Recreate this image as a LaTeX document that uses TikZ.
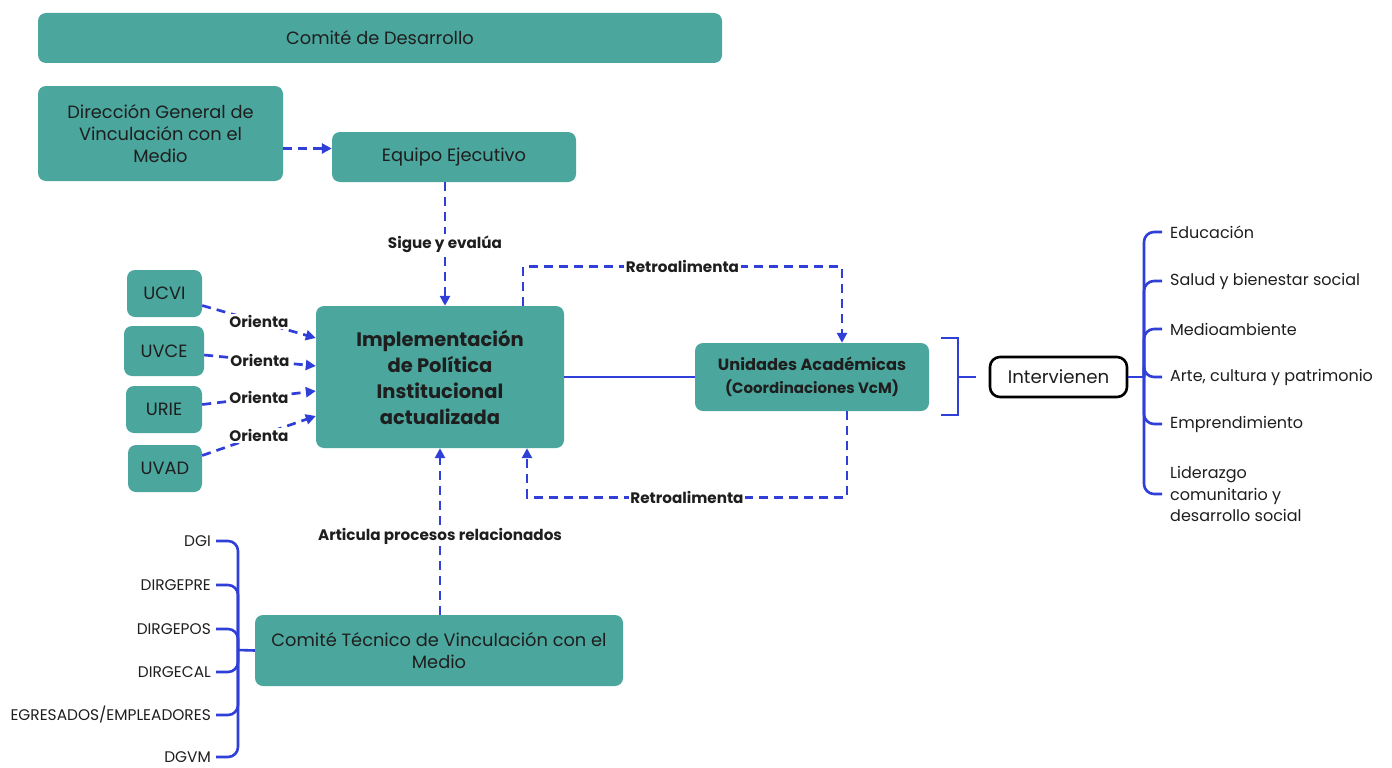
\documentclass[tikz,border=0pt]{standalone}
\usepackage{fontspec}
\setmainfont{Poppins}
\usetikzlibrary{arrows.meta,calc}
\definecolor{teal1}{HTML}{4BA69D}
\definecolor{blu}{HTML}{2F3FD8}
\definecolor{ink}{HTML}{1E1E1E}
\begin{document}
\begin{tikzpicture}[x=1pt,y=-1pt,
 box/.style={fill=teal1, rounded corners=8pt, align=center, inner sep=0pt, text=ink, font=\fontsize{17.8}{22}\selectfont},
 lbl/.style={fill=white, inner sep=1.5pt, text=ink, font=\bfseries\fontsize{15.2}{17}\selectfont},
 dline/.style={draw=blu, line width=2.7pt, dash pattern=on 9pt off 6pt},
 darr/.style={dline, -{Triangle[length=10pt,width=10pt]}},
 sline/.style={draw=blu, line width=2.6pt},
 item/.style={inner sep=0pt, text=ink, align=left, anchor=west, font=\fontsize{16}{21.5}\selectfont},
 litem/.style={inner sep=0pt, text=ink, anchor=east, font=\fontsize{15.4}{17}\selectfont},
]
\useasboundingbox (0,0) rectangle (1392,768);
\fill[white] (0,0) rectangle (1392,768);

% boxes
\node[box, minimum width=684pt, minimum height=50pt] (comite) at (380,38) {Comité de Desarrollo};
\node[box, minimum width=245pt, minimum height=95pt] (dir) at (160.5,133.5) {Dirección General de\\Vinculación con el\\Medio};
\node[box, minimum width=244pt, minimum height=50pt] (equipo) at (454,157) {Equipo Ejecutivo};
\node[box, minimum width=248pt, minimum height=142pt, font=\bfseries\fontsize{19.5}{26}\selectfont] (impl) at (440,377) {Implementación\\de Política\\Institucional\\actualizada};
\node[box, minimum width=75pt, minimum height=47pt] (ucvi) at (164.5,293.5) {UCVI};
\node[box, minimum width=80pt, minimum height=50pt] (uvce) at (164,351) {UVCE};
\node[box, minimum width=76pt, minimum height=47pt] (urie) at (164,409.5) {URIE};
\node[box, minimum width=74pt, minimum height=47pt] (uvad) at (165,468.5) {UVAD};
\node[box, minimum width=234pt, minimum height=68pt, font=\bfseries\fontsize{16.2}{23}\selectfont] (unid) at (812,377) {Unidades Académicas\\{\fontsize{15}{16}\selectfont(Coordinaciones VcM)}};
\node[box, minimum width=368pt, minimum height=71pt] (ctec) at (439,650.5) {Comité Técnico de Vinculación con el\\Medio};
\node[draw=black, line width=2.6pt, fill=white, rounded corners=10pt, minimum width=137pt, minimum height=40pt, inner sep=0pt, text=ink, font=\fontsize{18.2}{20}\selectfont] (interv) at (1058.5,377) {Intervienen};

% dashed connectors
\draw[darr] ([yshift=-15pt]dir.east) coordinate (d1) -- (d1 -| equipo.west);
\draw[darr] ([xshift=-9pt]equipo.south) coordinate (e1) -- node[lbl]{Sigue y evalúa} (e1 |- impl.north);
\draw[darr] ([yshift=-12pt]ucvi.east) -- node[lbl]{Orienta} ([yshift=39pt]impl.west);
\draw[darr] ([yshift=-4pt]uvce.east) -- node[lbl]{Orienta} ([yshift=11pt]impl.west);
\draw[darr] ([yshift=5pt]urie.east) -- node[lbl]{Orienta} ([yshift=-14pt]impl.west);
\draw[darr] ([yshift=13pt]uvad.east) -- node[lbl]{Orienta} ([yshift=-39pt]impl.west);
\draw[darr] ([xshift=83pt]impl.north) -- ++(0,39pt) -| node[lbl, pos=0.25]{Retroalimenta} ([xshift=30pt]unid.north);
\draw[darr] ([xshift=35pt]unid.south) -- ++(0,-86pt) -| node[lbl, pos=0.25]{Retroalimenta} ([xshift=87pt]impl.south);
\draw[darr] ([xshift=1pt]ctec.north) coordinate (c1) -- node[lbl, pos=0.47]{Articula procesos relacionados} (c1 |- impl.south);

% solid connector
\draw[sline] (impl.east) -- (unid.west);

% bracket next to Unidades
\draw[sline] (941,338) -- (958,338) -- (958,415) -- (941,415);
\draw[sline] (958,377) -- (976,377);

% right list
\coordinate (hubR) at (1144,377);
\node[item] (edu) at (1170,232) {Educación};
\node[item] (sal) at (1170,281) {Salud y bienestar social};
\node[item] (med) at (1170,329) {Medioambiente};
\node[item] (art) at (1170,377) {Arte, cultura y patrimonio};
\node[item] (emp) at (1170,424) {Emprendimiento};
\node[item] (lid) at (1170,494) {Liderazgo\\comunitario y\\desarrollo social};
\draw[sline] (interv.east) -- (hubR);
\foreach \n in {edu,sal,med,art,emp,lid}
  \draw[sline, rounded corners=10pt] (hubR) |- ([xshift=-8pt]\n.west);

% left list
\coordinate (hubL) at (238,650);
\node[litem] (dgi) at (211,541) {DGI};
\node[litem] (pre) at (211,585) {DIRGEPRE};
\node[litem] (pos) at (211,629) {DIRGEPOS};
\node[litem] (cal) at (211,672) {DIRGECAL};
\node[litem] (egr) at (211,715) {EGRESADOS/EMPLEADORES};
\node[litem] (dgv) at (211,757) {DGVM};
\draw[sline] (hubL) -- (ctec.west);
\foreach \n in {dgi,pre,pos,cal,egr,dgv}
  \draw[sline, rounded corners=10pt] (hubL) |- ([xshift=5pt]\n.east);
\end{tikzpicture}
\end{document}
